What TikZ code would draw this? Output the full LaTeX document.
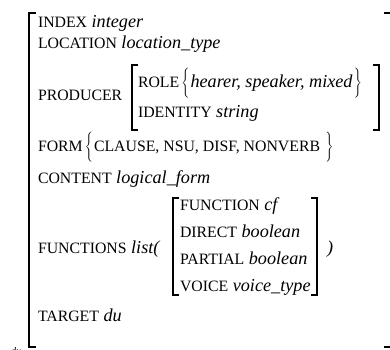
\documentclass[tikz,border=0pt]{standalone}
\usepackage{fontspec}
\setmainfont{Liberation Serif}
\newcommand\Ky[1]{{\fontsize{15.8}{18}\selectfont #1}}
\newcommand\Vl[1]{{\fontsize{18.2}{20}\selectfont\itshape #1}}
\newcommand\LBr{{\fontsize{18}{20}\selectfont$\left\{\vrule height 20pt depth 11pt width 0pt\right.$}}
\newcommand\RBr{{\fontsize{18}{20}\selectfont$\left.\vrule height 20pt depth 11pt width 0pt\right\}$}}
\begin{document}
\begin{tikzpicture}[x=1pt,y=-1pt,
  txt/.style={anchor=base west,inner sep=0pt,outer sep=0pt},
  brk/.style={line width=1.7pt,line join=miter}]
\useasboundingbox (0,0) rectangle (390,349);
% outer bracket
\draw[brk] (36,13) -- (29,13) -- (29,347) -- (36,347);
\draw[brk] (384,13) -- (390,13);
\draw[brk] (384,347) -- (390,347);
% rows
\node[txt] (index) at (38,27) {\Ky{INDEX}\hspace{4.5pt}\Vl{integer}};
\node[txt] (location) at (38,48) {\Ky{LOCATION}\hspace{4.5pt}\Vl{location\_type}};
\node[txt] (producer) at (38,100) {\Ky{PRODUCER}};
\draw[brk] (138,65) -- (132,65) -- (132,130) -- (138,130);
\draw[brk] (373,65) -- (379,65) -- (379,130) -- (373,130);
\node[txt] (role) at (138,87) {\Ky{ROLE}\hspace{2pt}\LBr\Vl{hearer, speaker, mixed}\RBr};
\node[txt] (identity) at (138,117) {\Ky{IDENTITY}\hspace{4.5pt}\Vl{string}};
\node[txt] (form) at (38,151) {\Ky{FORM}\hspace{2pt}\LBr\Ky{CLAUSE, NSU, DISF, NONVERB}\hspace{4pt}\RBr};
\node[txt] (content) at (38,183) {\Ky{CONTENT}\hspace{4.5pt}\Vl{logical\_form}};
\node[txt] (functions) at (38,253) {\Ky{FUNCTIONS}\hspace{4.5pt}\Vl{list(}};
\draw[brk] (179,198) -- (173,198) -- (173,295) -- (179,295);
\draw[brk] (311,198) -- (317,198) -- (317,295) -- (311,295);
\node[txt] (function) at (180,210) {\Ky{FUNCTION}\hspace{4.5pt}\Vl{cf}};
\node[txt] (direct) at (180,237) {\Ky{DIRECT}\hspace{4.5pt}\Vl{boolean}};
\node[txt] (partial) at (180,264) {\Ky{PARTIAL}\hspace{4.5pt}\Vl{boolean}};
\node[txt] (voice) at (180,291) {\Ky{VOICE}\hspace{4.5pt}\Vl{voice\_type}};
\node[txt] (close) at (327,253) {\Vl{)}};
\node[txt] (target) at (38,321) {\Ky{TARGET}\hspace{4.5pt}\Vl{du}};
\node[txt] (du) at (11,354) {\fontsize{10}{10}\selectfont\itshape du};
\end{tikzpicture}
\end{document}
